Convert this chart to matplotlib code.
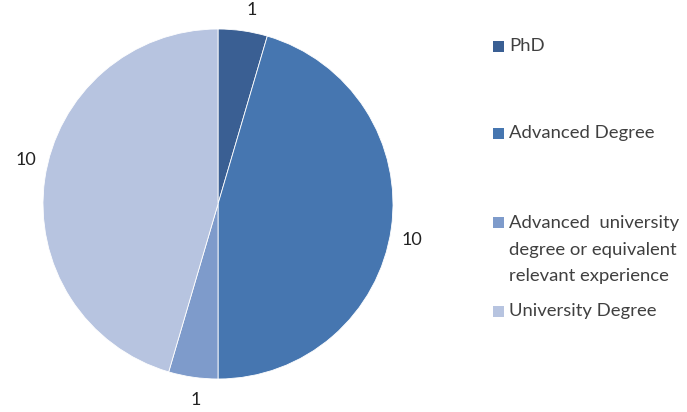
import matplotlib
matplotlib.use('Agg')
import matplotlib.pyplot as plt
import numpy as np
from matplotlib.patches import Rectangle

# degree requirements, counted per posting
categories = ["PhD", "Advanced Degree",
              "Advanced  university\ndegree or equivalent\nrelevant experience",
              "University Degree"]
counts = [1, 10, 1, 10]
colors = ["#3A5F93", "#4676B0", "#7E9BCB", "#B7C4E0"]

plt.rcParams['font.family'] = ['Lato', 'DejaVu Sans']

fig = plt.figure(figsize=(6.87, 4.12), dpi=100, facecolor='white')
W, H = 687, 412

# pie axes: centre ~ (218, 204) px, radius ~ 175 px
ax = fig.add_axes([43 / W, 33 / H, 350 / W, 350 / H])
wedges, texts = ax.pie(counts, colors=colors, startangle=90, counterclock=False,
                       labels=[str(c) for c in counts], labeldistance=1.12,
                       wedgeprops=dict(edgecolor='white', linewidth=0.6),
                       textprops=dict(fontsize=13, color='#222222'))

# best-fit style label angles (degrees), a bit off the wedge centres
label_angles = [80, -10.5, -96.5, 167]
for t, a in zip(texts, label_angles):
    r = 1.125
    t.set_position((r * np.cos(np.radians(a)), r * np.sin(np.radians(a))))
    t.set_ha('center')
    t.set_va('center')

ax.set_xlim(-1, 1)
ax.set_ylim(-1, 1)
ax.set_aspect('equal')
ax.axis('off')

# legend on the right
entry_y = [46, 133, 222, 311]
for label, col, y in zip(categories, colors, entry_y):
    fig.patches.append(Rectangle((493 / W, 1 - (y + 6) / H), 11 / W, 11 / H,
                                 transform=fig.transFigure, facecolor=col,
                                 edgecolor='none'))
    if '\n' in label:
        fig.text(509 / W, 1 - (y - 7) / H, label, fontsize=13.3, color='#404040',
                 va='top', ha='left', linespacing=1.82)
    else:
        fig.text(509 / W, 1 - y / H, label, fontsize=13.3, color='#404040',
                 va='center', ha='left')

plt.savefig('out.png', dpi=100, facecolor='white')
